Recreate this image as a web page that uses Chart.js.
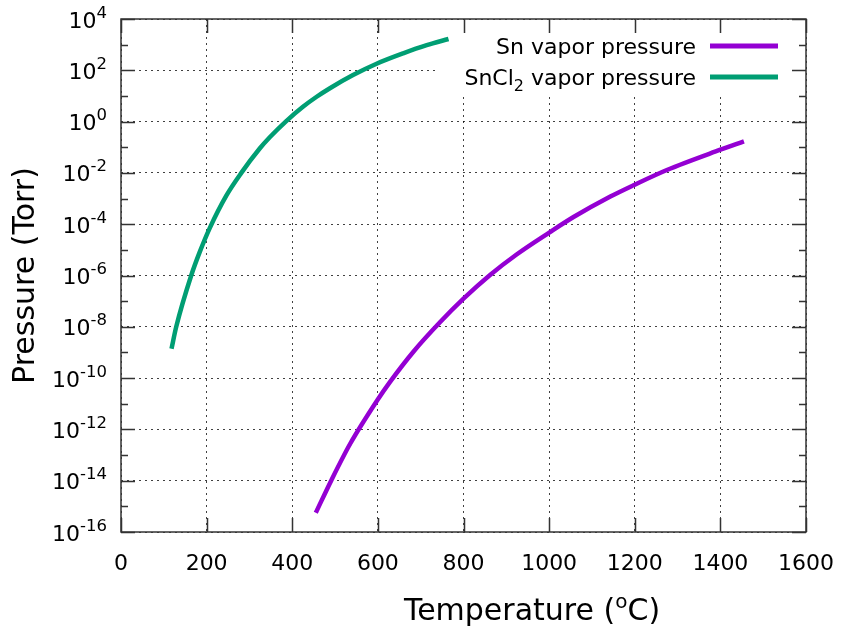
<!DOCTYPE html>
<html>
<head>
<meta charset="utf-8">
<script src="https://cdn.jsdelivr.net/npm/chart.js@4.4.0/dist/chart.umd.min.js"></script>
<style>
  html, body { margin: 0; padding: 0; background: #fff; }
</style>
</head>
<body>
<canvas id="chart" width="842" height="629"></canvas>
<script>
// temperatures in degC, pressures in Torr
const snTemp = [455, 492, 535, 599, 628, 683, 745, 800, 862, 924, 1001, 1057, 1143, 1197, 1275, 1400, 1455];
const snPressure = [5.6e-16, 1.1e-14, 2.7e-13, 1.4e-11, 7.0e-11, 1.07e-9, 1.5e-8, 1.25e-7, 1.05e-6, 6.6e-6, 4.8e-5, 1.9e-4, 1.2e-3, 3.3e-3, 1.3e-2, 8.0e-2, 1.7e-1];

const sncl2Temp = [118, 129, 164, 184, 207, 246, 281, 324, 348, 386, 425, 457, 488, 542, 597, 659, 714, 765];
const sncl2Pressure = [1.4e-9, 1.0e-8, 1.0e-6, 8.3e-6, 6.9e-5, 1.3e-3, 1.0e-2, 8.9e-2, 2.5e-1, 1.05, 3.8, 9.3, 20, 65, 180, 457, 950, 1660];

const seriesLabels = ['Sn vapor pressure', 'SnCl2 vapor pressure'];
const seriesColors = ['#9400d3', '#009e73'];

const xTicks = [0, 200, 400, 600, 800, 1000, 1200, 1400, 1600];
const yTicks = [1e-16, 1e-14, 1e-12, 1e-10, 1e-8, 1e-6, 1e-4, 1e-2, 1, 1e2, 1e4];
const yMinorTicks = [1e-15, 1e-13, 1e-11, 1e-9, 1e-7, 1e-5, 1e-3, 1e-1, 1e1, 1e3];

const FONT = "'DejaVu Sans', Verdana, sans-serif";

function toPoints(xs, ys) {
  return xs.map((x, i) => ({ x: x, y: ys[i] }));
}

// draws text made of [string, size, baselineShift] pieces, starting at x
function drawParts(ctx, parts, x, y) {
  parts.forEach(p => {
    ctx.font = p[1] + 'px ' + FONT;
    ctx.fillText(p[0], x, y + p[2]);
    x += ctx.measureText(p[0]).width;
  });
}
function partsWidth(ctx, parts) {
  let w = 0;
  parts.forEach(p => { ctx.font = p[1] + 'px ' + FONT; w += ctx.measureText(p[0]).width; });
  return w;
}

// gnuplot look: boxed plot, inward ticks, key top right, axis labels
const gnuplotDecor = {
  id: 'gnuplotDecor',
  beforeDatasetsDraw(chart) {
    const ctx = chart.ctx, a = chart.chartArea;
    // key area hides the grid behind it
    ctx.save();
    ctx.fillStyle = '#fff';
    ctx.fillRect(437, a.top + 1, a.right - 438, 92 - a.top);
    ctx.restore();
  },
  afterDraw(chart) {
    const ctx = chart.ctx, a = chart.chartArea;
    const xs = chart.scales.x, ys = chart.scales.y;
    ctx.save();
    ctx.strokeStyle = '#333';
    ctx.lineWidth = 1.5;

    ctx.beginPath();
    xTicks.forEach(t => {
      const px = Math.round(xs.getPixelForValue(t)) + 0.5;
      ctx.moveTo(px, a.bottom); ctx.lineTo(px, a.bottom - 14);
      ctx.moveTo(px, a.top); ctx.lineTo(px, a.top + 14);
    });
    yTicks.forEach(t => {
      const py = Math.round(ys.getPixelForValue(t)) + 0.5;
      ctx.moveTo(a.left, py); ctx.lineTo(a.left + 14, py);
      ctx.moveTo(a.right, py); ctx.lineTo(a.right - 14, py);
    });
    yMinorTicks.forEach(t => {
      const py = Math.round(ys.getPixelForValue(t)) + 0.5;
      ctx.moveTo(a.left, py); ctx.lineTo(a.left + 7, py);
      ctx.moveTo(a.right, py); ctx.lineTo(a.right - 7, py);
    });
    ctx.stroke();
    ctx.strokeRect(a.left, a.top, a.right - a.left, a.bottom - a.top);

    ctx.fillStyle = '#000';
    ctx.textBaseline = 'alphabetic';
    ctx.textAlign = 'left';

    // y tick labels: 10 with raised exponent
    yTicks.forEach(t => {
      const py = ys.getPixelForValue(t);
      const e = String(Math.round(Math.log10(t)));
      const parts = [['10', 22, 0], [e, 16.5, -10]];
      drawParts(ctx, parts, 107 - partsWidth(ctx, parts), py + 8.5);
    });

    // key
    const rows = [46, 77];
    chart.data.datasets.forEach((ds, i) => {
      const y = rows[i];
      const parts = i === 1
        ? [['SnCl', 22, 0], ['2', 16, 6], [' vapor pressure', 22, 0]]
        : [[ds.label, 22, 0]];
      drawParts(ctx, parts, 696 - partsWidth(ctx, parts), y + 7.5);
      ctx.strokeStyle = ds.borderColor;
      ctx.lineWidth = 5;
      ctx.beginPath();
      ctx.moveTo(710, y); ctx.lineTo(778, y);
      ctx.stroke();
    });

    // axis titles
    const xTitle = [['Temperature (', 30, 0], ['o', 20, -12], ['C)', 30, 0]];
    drawParts(ctx, xTitle, 532 - partsWidth(ctx, xTitle) / 2, 620);

    ctx.font = '30px ' + FONT;
    ctx.translate(34, (a.top + a.bottom) / 2);
    ctx.rotate(-Math.PI / 2);
    ctx.textAlign = 'center';
    ctx.fillText('Pressure (Torr)', 0, 0);
    ctx.restore();
  }
};

// keep the plot box where it is: ignore label overhang padding
function noPad(s) {
  s.paddingLeft = 0; s.paddingRight = 0; s.paddingTop = 0; s.paddingBottom = 0;
}

new Chart(document.getElementById('chart'), {
  type: 'line',
  data: {
    datasets: [
      {
        label: seriesLabels[0],
        data: toPoints(snTemp, snPressure),
        borderColor: seriesColors[0],
        borderWidth: 4.5,
        pointRadius: 0,
        cubicInterpolationMode: 'monotone',
        fill: false
      },
      {
        label: seriesLabels[1],
        data: toPoints(sncl2Temp, sncl2Pressure),
        borderColor: seriesColors[1],
        borderWidth: 4.5,
        pointRadius: 0,
        cubicInterpolationMode: 'monotone',
        fill: false
      }
    ]
  },
  options: {
    responsive: false,
    animation: false,
    layout: { padding: { top: 19, right: 36, left: 0, bottom: 0 } },
    plugins: {
      legend: { display: false },
      tooltip: { enabled: false }
    },
    scales: {
      x: {
        type: 'linear',
        min: 0,
        max: 1600,
        afterBuildTicks: s => { s.ticks = xTicks.map(v => ({ value: v })); },
        afterFit: s => { s.height = 97; noPad(s); },
        border: { display: false, dash: [2, 4] },
        grid: { color: 'rgba(0,0,0,0.75)', lineWidth: 1, drawTicks: false },
        ticks: { color: '#000', font: { family: FONT, size: 22 }, padding: 19, maxRotation: 0, callback: v => String(v) }
      },
      y: {
        type: 'logarithmic',
        min: 1e-16,
        max: 1e4,
        afterBuildTicks: s => { s.ticks = yTicks.map(v => ({ value: v })); },
        afterFit: s => { s.width = 121; noPad(s); },
        border: { display: false, dash: [2, 4] },
        grid: { color: 'rgba(0,0,0,0.75)', lineWidth: 1, drawTicks: false },
        ticks: { display: false }
      }
    }
  },
  plugins: [gnuplotDecor]
});
</script>
</body>
</html>
